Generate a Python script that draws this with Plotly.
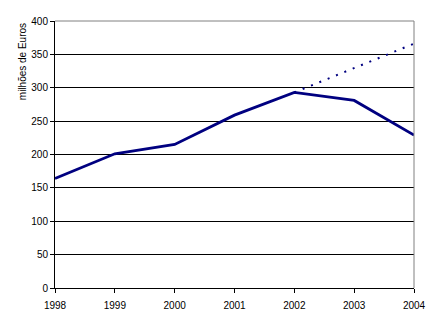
import plotly.graph_objects as go

years = [1998, 1999, 2000, 2001, 2002, 2003, 2004]
valores = [164, 201, 215, 259, 293, 281, 229]
anos_tendencia = [2002, 2003, 2004]
tendencia = [293, 330, 366]
y_ticks = [0, 50, 100, 150, 200, 250, 300, 350, 400]

NAVY = "#000080"
FONT = "Liberation Sans, Arial, sans-serif"

fig = go.Figure()
fig.add_trace(go.Scatter(
    x=anos_tendencia, y=tendencia, mode="lines",
    line=dict(color=NAVY, width=2, dash="2px,7px"),
    hoverinfo="skip", showlegend=False,
))
fig.add_trace(go.Scatter(
    x=years, y=valores, mode="lines",
    line=dict(color=NAVY, width=2.8),
    showlegend=False,
))

fig.update_layout(
    width=437, height=326,
    margin=dict(l=55, r=23, t=21, b=38),
    paper_bgcolor="white", plot_bgcolor="white",
    font=dict(family=FONT, size=10, color="black"),
    xaxis=dict(
        range=[1998, 2004], tickvals=years, ticktext=[str(y) for y in years],
        showgrid=False, zeroline=False,
        showline=True, linecolor="black", linewidth=1,
        ticks="outside", ticklen=4, tickcolor="black", tickwidth=1,
        ticklabelstandoff=4,
        tickfont=dict(family=FONT, size=10, color="black"),
    ),
    yaxis=dict(
        range=[0, 400], tickvals=y_ticks,
        showgrid=True, gridcolor="black", gridwidth=1, zeroline=False,
        showline=True, linecolor="black", linewidth=1,
        ticks="outside", ticklen=4, tickcolor="black", tickwidth=1,
        tickfont=dict(family=FONT, size=10, color="black"),
    ),
    shapes=[
        dict(type="line", xref="paper", yref="paper", x0=0, x1=1, y0=1, y1=1,
             line=dict(color="#808080", width=1)),
        dict(type="line", xref="paper", yref="paper", x0=1, x1=1, y0=0, y1=1,
             line=dict(color="#808080", width=1)),
    ],
    annotations=[
        dict(text="milhões de Euros", textangle=-90,
             xref="paper", yref="paper", x=-0.09, y=1.0,
             xanchor="center", yanchor="top", showarrow=False,
             font=dict(family=FONT, size=10, color="black")),
    ],
)

fig.write_html("out.html")
